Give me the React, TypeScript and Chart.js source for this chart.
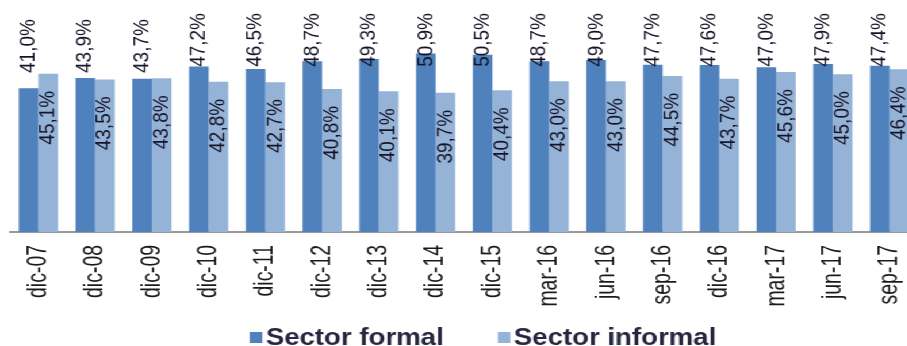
import { useEffect, useRef } from "react";
import { Chart, registerables } from "chart.js";

Chart.register(...registerables);

const categories = [
  "dic-07", "dic-08", "dic-09", "dic-10", "dic-11", "dic-12", "dic-13", "dic-14",
  "dic-15", "mar-16", "jun-16", "sep-16", "dic-16", "mar-17", "jun-17", "sep-17",
];
const formalValues = [41.0, 43.9, 43.7, 47.2, 46.5, 48.7, 49.3, 50.9, 50.5, 48.7, 49.0, 47.7, 47.6, 47.0, 47.9, 47.4];
const informalValues = [45.1, 43.5, 43.8, 42.8, 42.7, 40.8, 40.1, 39.7, 40.4, 43.0, 43.0, 44.5, 43.7, 45.6, 45.0, 46.4];
const seriesNames = ["Sector formal", "Sector informal"];
const seriesColors = ["#4F81BD", "#95B3D7"];

const STRETCH_X = 1.15;
const CANVAS_W = 840;
const CANVAS_H = 346;

const fmt = (v: number) => v.toFixed(1).replace(".", ",") + "%";

const labelPlugin = {
  id: "barLabels",
  afterDatasetsDraw(chart: any) {
    const ctx = chart.ctx;
    const top = chart.chartArea.top;
    ctx.save();
    ctx.font = "19px 'Liberation Sans', Arial, sans-serif";
    ctx.fillStyle = "#141428";
    ctx.textBaseline = "middle";
    chart.data.datasets.forEach((ds: any, di: number) => {
      const meta = chart.getDatasetMeta(di);
      meta.data.forEach((bar: any, i: number) => {
        const text = fmt(ds.data[i]);
        const len = ctx.measureText(text).width;
        const barTop = bar.y;
        let anchorY: number;
        if (di === 0) {
          const bottom = Math.min(barTop - 4, top + 62);
          anchorY = Math.max(top + 2, bottom - len);
        } else {
          anchorY = barTop + 17;
        }
        ctx.save();
        ctx.translate(bar.x, anchorY);
        ctx.rotate(-Math.PI / 2);
        ctx.textAlign = "right";
        ctx.fillText(text, 0, 0);
        ctx.restore();
      });
    });
    ctx.restore();
  },
};

const tickPlugin = {
  id: "tickLabels",
  afterDraw(chart: any) {
    const ctx = chart.ctx;
    const xs = chart.scales.x;
    const y0 = chart.chartArea.bottom + 13;
    ctx.save();
    ctx.font = "24px 'Liberation Sans', Arial, sans-serif";
    ctx.fillStyle = "#1a1a1a";
    ctx.textBaseline = "middle";
    ctx.textAlign = "right";
    chart.data.labels.forEach((lab: string, i: number) => {
      const x = xs.getPixelForValue(i);
      ctx.save();
      ctx.translate(x, y0);
      ctx.rotate(-Math.PI / 2);
      ctx.scale(0.81, 1);
      ctx.fillText(lab, 0, 0);
      ctx.restore();
    });
    ctx.restore();
  },
};

const legendPlugin = {
  id: "customLegend",
  afterDraw(chart: any) {
    const ctx = chart.ctx;
    ctx.save();
    ctx.font = "bold 24px 'Liberation Sans', Arial, sans-serif";
    const box = 11;
    const gapText = 3;
    const gapItem = 47;
    const dss = chart.data.datasets;
    const widths = dss.map((d: any) => ctx.measureText(d.label).width);
    const total =
      widths.reduce((a: number, w: number) => a + box + gapText + w, 0) + gapItem * (dss.length - 1);
    let x = chart.width / 2 - total / 2;
    const baseline = chart.height - 1;
    dss.forEach((d: any, i: number) => {
      ctx.fillStyle = d.backgroundColor;
      ctx.fillRect(x, baseline - 13, box, 11);
      ctx.fillStyle = "#262640";
      ctx.textAlign = "left";
      ctx.textBaseline = "alphabetic";
      ctx.fillText(d.label, x + box + gapText, baseline);
      x += box + gapText + widths[i] + gapItem;
    });
    ctx.restore();
  },
};

export default function App() {
  const ref = useRef<HTMLCanvasElement | null>(null);

  useEffect(() => {
    if (!ref.current) return;
    const chart = new Chart(ref.current, {
      type: "bar",
      data: {
        labels: categories,
        datasets: [
          {
            label: seriesNames[0],
            data: formalValues,
            backgroundColor: seriesColors[0],
            categoryPercentage: 0.69,
            barPercentage: 1.0,
          },
          {
            label: seriesNames[1],
            data: informalValues,
            backgroundColor: seriesColors[1],
            categoryPercentage: 0.69,
            barPercentage: 1.0,
          },
        ],
      },
      options: {
        responsive: false,
        animation: false,
        devicePixelRatio: 1,
        layout: { padding: { top: 11, left: 8.7, right: 41.7, bottom: 0 } },
        plugins: {
          legend: { display: false },
          tooltip: { enabled: false },
          title: { display: false },
        },
        scales: {
          x: {
            grid: { display: false, drawTicks: false },
            border: { display: true, color: "#9a9a9a", width: 2 },
            ticks: { display: false, autoSkip: false },
            afterFit(scale: any) {
              scale.height = 114;
            },
          },
          y: {
            display: false,
            min: 0,
            max: 63,
          },
        },
      },
      plugins: [labelPlugin, tickPlugin, legendPlugin],
    } as any);
    return () => chart.destroy();
  }, []);

  return (
    <div
      style={{
        position: "fixed",
        left: 0,
        top: 0,
        width: CANVAS_W,
        height: CANVAS_H,
        transform: `scaleX(${STRETCH_X})`,
        transformOrigin: "0 0",
        background: "#fff",
      }}
    >
      <canvas ref={ref} width={CANVAS_W} height={CANVAS_H} />
    </div>
  );
}
